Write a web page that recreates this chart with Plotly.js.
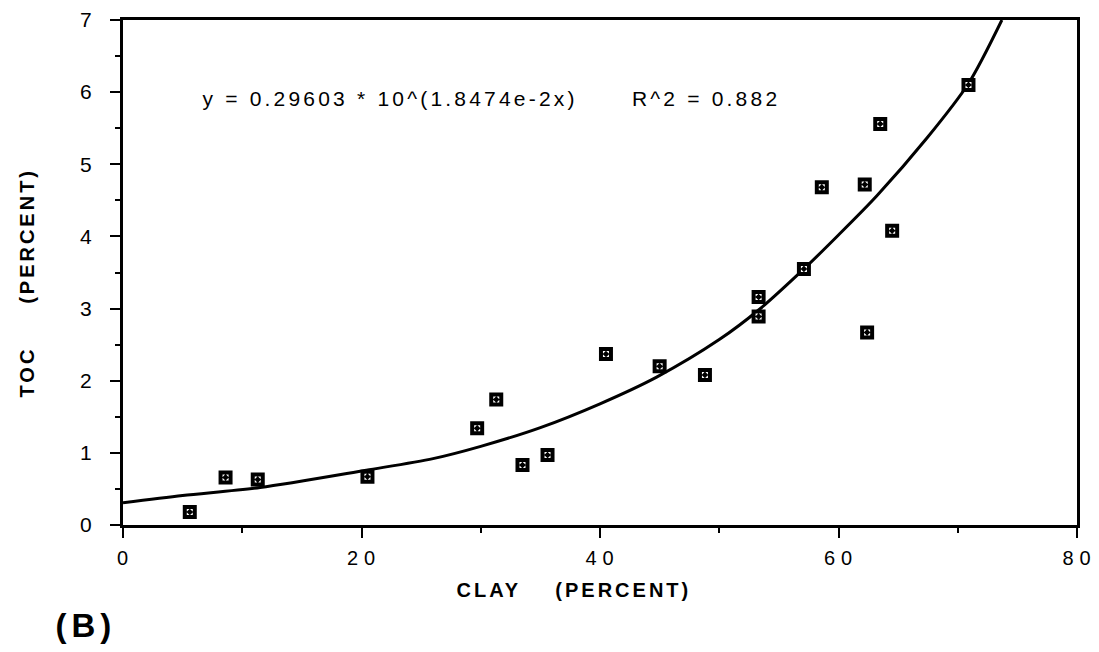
<!DOCTYPE html>
<html>
<head>
<meta charset="utf-8">
<script src="https://cdn.plot.ly/plotly-3.0.1.min.js"></script>
<style>
html,body{margin:0;padding:0;background:#fff;}
#chart{width:1099px;height:652px;}
g.annotation[data-index="0"] text { letter-spacing: 3.2px; }
g.annotation[data-index="1"] text { letter-spacing: 5px; }
g.annotation[data-index="2"] text { letter-spacing: 3px; }
g.annotation[data-index="3"] text { letter-spacing: 3px; }
.xtick text { letter-spacing: 1px; }
</style>
</head>
<body>
<div id="chart"></div>
<script>
// Measured samples: clay (%) vs TOC (%)
const clay = [5.6, 8.6, 11.3, 20.5, 29.7, 31.3, 33.5, 35.6, 40.5, 45.0, 48.8, 53.3, 53.3, 57.1, 58.6, 62.2, 62.4, 63.5, 64.5, 70.9];
const toc  = [0.18, 0.66, 0.63, 0.67, 1.34, 1.74, 0.83, 0.97, 2.37, 2.20, 2.08, 3.16, 2.89, 3.55, 4.68, 4.72, 2.67, 5.56, 4.08, 6.10];

// Fitted curve
const fitX = [0, 5, 11.5, 20.4, 26, 30, 35, 40, 44.75, 50, 53.3, 57.1, 60, 63.2, 67.4, 70.9, 73.7];
const fitY = [0.31, 0.41, 0.52, 0.76, 0.92, 1.09, 1.35, 1.68, 2.05, 2.57, 2.98, 3.55, 4.02, 4.56, 5.36, 6.12, 7.0];

const xTickVals = [0, 20, 40, 60, 80];
const xTickText = ['0', '2\u20090', '4\u20090', '6\u20090', '8\u20090'];
const yTickVals = [0, 1, 2, 3, 4, 5, 6, 7];

const equation = 'y = 0.29603 * 10^(1.8474e-2x)\u00a0\u00a0\u00a0\u00a0\u00a0\u00a0R^2 = 0.882';
const xTitle = 'CLAY\u00a0\u00a0\u00a0\u00a0(PERCENT)';
const yTitle = 'TOC\u00a0\u00a0\u00a0\u00a0\u00a0(PERCENT)';
const panelLabel = '(B)';

const font = 'Liberation Sans, Arial, Helvetica, sans-serif';

const traces = [
  {
    x: fitX, y: fitY, type: 'scatter', mode: 'lines',
    line: {color: '#000', width: 3, shape: 'spline', smoothing: 0.8},
    hoverinfo: 'skip', showlegend: false
  },
  {
    x: clay, y: toc, type: 'scatter', mode: 'markers',
    marker: {symbol: 'square-dot', size: 10, color: '#fff', line: {color: '#000', width: 4}},
    showlegend: false
  }
];

// plot area in pixels: x 123..1077, y 20..525
const W = 954, H = 505;
const px = v => (v - 123) / W;
const py = v => (525 - v) / H;

const layout = {
  width: 1099, height: 652,
  margin: {l: 123, r: 22, t: 20, b: 127},
  paper_bgcolor: '#fff', plot_bgcolor: '#fff',
  font: {family: font, color: '#000', size: 20},
  showlegend: false,
  xaxis: {
    range: [0, 80], tickvals: xTickVals, ticktext: xTickText,
    showgrid: false, zeroline: false,
    showline: true, linecolor: '#000', linewidth: 3, mirror: true,
    ticks: 'outside', ticklen: 10, tickwidth: 2, tickcolor: '#000',
    ticklabelstandoff: 3,
    minor: {dtick: 10, ticks: 'outside', ticklen: 5, tickwidth: 2, tickcolor: '#000', showgrid: false},
    tickfont: {size: 20, family: font}
  },
  yaxis: {
    range: [0, 7], tickvals: yTickVals,
    showgrid: false, zeroline: false,
    showline: true, linecolor: '#000', linewidth: 3, mirror: true,
    ticks: 'outside', ticklen: 10, tickwidth: 2, tickcolor: '#000',
    ticklabelstandoff: 14,
    minor: {dtick: 0.5, ticks: 'outside', ticklen: 5, tickwidth: 2, tickcolor: '#000', showgrid: false},
    tickfont: {size: 21, family: font}
  },
  annotations: [
    {
      xref: 'paper', yref: 'paper', x: px(491), y: py(98),
      xanchor: 'center', yanchor: 'middle', showarrow: false,
      text: equation, font: {size: 21, family: font}
    },
    {
      xref: 'paper', yref: 'paper', x: px(86), y: py(625),
      xanchor: 'center', yanchor: 'middle', showarrow: false,
      text: panelLabel, font: {size: 33, family: font, weight: 'bold'}
    },
    {
      xref: 'paper', yref: 'paper', x: px(574), y: py(590),
      xanchor: 'center', yanchor: 'middle', showarrow: false,
      text: xTitle, font: {size: 20, family: font, weight: 'bold'}
    },
    {
      xref: 'paper', yref: 'paper', x: px(27), y: py(283),
      xanchor: 'center', yanchor: 'middle', showarrow: false, textangle: -90,
      text: yTitle, font: {size: 20, family: font, weight: 'bold'}
    }
  ]
};

Plotly.newPlot('chart', traces, layout, {displayModeBar: false, staticPlot: true});
</script>
</body>
</html>
